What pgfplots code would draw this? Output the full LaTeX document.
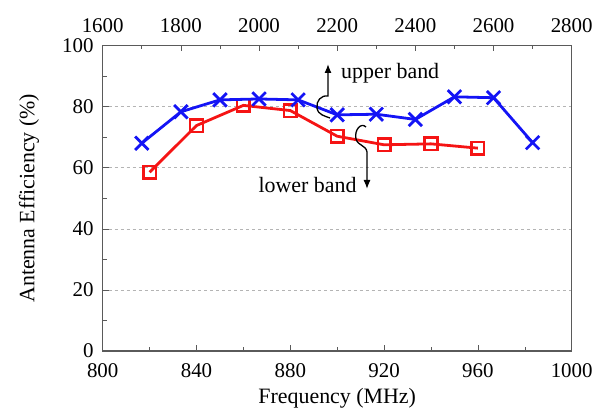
\documentclass[border=0pt]{standalone}
\usepackage{fontspec}
\setmainfont{Liberation Serif}
\usepackage{pgfplots}
\pgfplotsset{compat=1.18}
\usetikzlibrary{arrows.meta}
\definecolor{axgray}{RGB}{90,90,90}
\definecolor{gridgray}{RGB}{180,180,180}
\definecolor{myblue}{RGB}{20,20,245}
\definecolor{myred}{RGB}{245,20,20}
\begin{document}
\rmfamily\fontsize{21}{25}\selectfont
\begin{tikzpicture}[font=\rmfamily\fontsize{21}{25}\selectfont]
\pgfplotsset{every axis/.append style={
  scale only axis, width=469bp, height=305.5bp,
  at={(0,0)}, anchor=south west,
  /pgf/number format/assume math mode=true,
  /pgf/number format/1000 sep={},
  tick label style={font=\rmfamily\fontsize{21}{25}\selectfont},
  label style={font=\rmfamily\fontsize{22}{26}\selectfont},
  axis line style={axgray, line width=1.2pt},
  tick style={axgray, line width=0.6pt},
  major tick length=6bp, minor tick length=4bp,
  tick align=inside,
}}
\begin{axis}[
  xmin=800, xmax=1000, ymin=0, ymax=100,
  xtick={800,840,...,1000}, minor xtick={820,860,...,980},
  ytick={0,20,...,100}, minor ytick={10,30,...,90},
  xtick pos=bottom, ytick pos=left,
  ymajorgrids, grid style={gridgray, dashed, line width=0.6pt},
  xlabel={Frequency (MHz)}, ylabel={Antenna Efficiency (\%)},
  xlabel style={yshift=3bp}, ylabel style={yshift=9bp},
  xticklabel style={yshift=-5bp},
  yticklabel style={xshift=-2bp},
]
\addplot[myred, line width=2.8pt, mark=square, mark size=6.3bp,
  mark options={solid, line width=2.6pt, fill=white}]
  coordinates {(820,58.5) (840,73.8) (860,80.4) (880,78.7) (900,70.3) (920,67.5) (940,67.8) (960,66.4)};
\end{axis}
\begin{axis}[
  xmin=1600, xmax=2800, ymin=0, ymax=100,
  axis x line*=top, axis y line=none,
  xtick={1600,1800,...,2800}, minor xtick={1700,1900,...,2700},
  ytick=\empty,
  xticklabel style={yshift=6bp},
]
\addplot[myblue, line width=2.8pt, mark=x, mark size=9.5bp,
  mark options={solid, line width=2.8pt}]
  coordinates {(1700,68.0) (1800,78.3) (1900,82.2) (2000,82.5) (2100,82.2) (2200,77.3) (2300,77.5) (2400,75.8) (2500,83.2) (2600,82.9) (2700,68.2)};
\end{axis}
\draw[black, line width=1.3pt, -{Latex[length=9bp,width=7bp]}]
  (227.3bp,233bp) .. controls (222.3bp,235bp) and (215.3bp,236bp) .. (214.3bp,243bp)
  .. controls (213.3bp,250bp) and (218.3bp,256bp) .. (225.3bp,255bp) -- (225.3bp,287bp);
\node[anchor=west, inner sep=0pt, font=\rmfamily\fontsize{22}{26}\selectfont] at (238.3bp,278bp) {upper band};
\draw[black, line width=1.3pt, -{Latex[length=9bp,width=7bp]}]
  (263.3bp,224bp) .. controls (258.3bp,229bp) and (251.3bp,221bp) .. (253.3bp,212bp)
  .. controls (255.3bp,205bp) and (263.3bp,206bp) .. (264.3bp,199bp) -- (264.3bp,162bp);
\node[anchor=east, inner sep=0pt, font=\rmfamily\fontsize{22}{26}\selectfont] at (254bp,166bp) {lower band};
\pgfresetboundingbox
\path[use as bounding box] (-102.7bp,-61bp) rectangle (497.3bp,351bp);
\end{tikzpicture}
\end{document}
